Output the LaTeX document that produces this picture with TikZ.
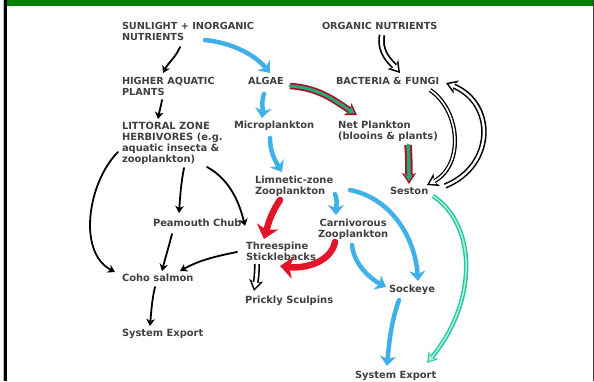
\documentclass[tikz,border=0pt]{standalone}
\usepackage{fontspec}
\usetikzlibrary{arrows.meta}
\newfontfamily\lblfont{DejaVu Sans}
\definecolor{cgreen}{RGB}{0,128,0}
\definecolor{cblue}{RGB}{64,176,232}
\definecolor{cred}{RGB}{225,20,40}
\definecolor{cdred}{RGB}{165,20,40}
\definecolor{cgin}{RGB}{40,168,120}
\definecolor{cteal}{RGB}{36,200,160}
\definecolor{ctxt}{RGB}{64,64,64}
\begin{document}
\begin{tikzpicture}[x=1pt,y=-1pt,
  lbl/.style={anchor=north west, inner sep=0pt, outer sep=0pt, align=left, text=ctxt,
    font=\lblfont\bfseries\fontsize{9.9}{11}\selectfont},
  caps/.style={lbl, font=\lblfont\bfseries\fontsize{9.7}{11}\selectfont},
  blk/.style={draw=black, line width=1.8pt, line cap=round, -{Stealth[length=7pt,width=8.5pt,inset=2pt]}},
  blu/.style={draw=cblue, line width=4.5pt, line cap=round, -{Stealth[length=10pt,width=16pt,inset=3pt]}},
  rd/.style={draw=cred, line width=6.5pt, line cap=round, -{Stealth[length=13pt,width=22pt,inset=3.5pt]}},
  holo/.style n args={4}{draw=#2, line width=#4, line cap=round, shorten >=2.8pt,
    -{Stealth[length=6.5pt,width=8pt,inset=1.8pt]},
    preaction={draw=#1, line width=#3, shorten >=0pt, -{Stealth[length=11pt,width=14pt,inset=3pt]}}},
  holt/.style={draw=cteal!35, line width=1.5pt, line cap=round, shorten >=2.2pt,
    -{Stealth[length=6pt,width=7.5pt,inset=1.5pt]},
    preaction={draw=cteal, line width=4.4pt, shorten >=0pt, -{Stealth[length=10pt,width=12pt,inset=2.5pt]}}}
]
\useasboundingbox (0,0) rectangle (594,381);
\fill[white] (0,0) rectangle (594,381);
\fill[gray!50] (3,0) rectangle (4,381);
\fill[black] (4,0) rectangle (7,381);
\fill[cgreen] (7,0) rectangle (594,5.7);
\fill[black!75] (592.5,0) rectangle (594,381);

% nodes
\node[caps] (sun) at (122,21.8) {SUNLIGHT + INORGANIC\\NUTRIENTS};
\node[caps] (org) at (322,21.8) {ORGANIC NUTRIENTS};
\node[caps] (hap) at (122,76.8) {HIGHER AQUATIC\\PLANTS};
\node[caps] (alg) at (248,76.8) {ALGAE};
\node[caps] (bac) at (336,76.8) {BACTERIA \& FUNGI};
\node[lbl] (lit) at (122,121.8) {LITTORAL ZONE\\HERBIVORES (e.g.\\aquatic insecta \&\\zooplankton)};
\node[lbl] (mic) at (234,120.8) {Microplankton};
\node[lbl] (net) at (338,120.8) {Net Plankton\\(blooins \& plants)};
\node[lbl] (lim) at (255,175.8) {Limnetic-zone\\Zooplankton};
\node[lbl] (ses) at (390,186.8) {Seston};
\node[lbl] (pea) at (153,218.8) {Peamouth Chub};
\node[lbl, align=center] (car) at (318,218.8) {Carnivorous\\Zooplankton};
\node[lbl] (thr) at (246,241.8) {Threespine\\Sticklebacks};
\node[lbl] (coh) at (122,273.8) {Coho salmon};
\node[lbl] (pri) at (245,295.8) {Prickly Sculpins};
\node[lbl] (soc) at (389,284.8) {Sockeye};
\node[lbl] (sysa) at (122,328.8) {System Export};
\node[lbl] (sysb) at (355,370.8) {System Export};

% black thin arrows
\draw[blk] ([shift={(58,25.2)}]sun.north west) .. controls +(-4,10) and +(5,-10) .. ([shift={(41,-3.8)}]hap.north west);
\draw[blk] ([shift={(40,23.2)}]hap.north west) .. controls +(-1,6) and +(1,-6) .. ([shift={(36,-2.8)}]lit.north west);
\draw[blk] ([shift={(-4,30.2)}]lit.north west) .. controls +(-30,30) and +(-38,-20) .. ([shift={(-7,-1.8)}]coh.north west);
\draw[blk] ([shift={(62,46.2)}]lit.north west) .. controls +(-3,15) and +(1,-15) .. ([shift={(26,-5.8)}]pea.north west);
\draw[blk] ([shift={(85,45.2)}]lit.north west) .. controls +(22,12) and +(-6,-25) .. ([shift={(-1,-15.8)}]thr.north west);
\draw[blk] ([shift={(19,15.2)}]pea.north west) .. controls +(-3,12) and +(3,-12) .. ([shift={(40,-2.8)}]coh.north west);
\draw[blk] ([shift={(-9,10.2)}]thr.north west) .. controls +(-25,5) and +(18,-10) .. ([shift={(58,-2.8)}]coh.north west);
\draw[blk] ([shift={(33,13.2)}]coh.north west) .. controls +(-3,12) and +(1,-12) .. ([shift={(28,-2.8)}]sysa.north west);

% hollow black arrows
\draw[holo={black}{white}{6.5pt}{3pt}] ([shift={(60,13.2)}]org.north west) .. controls +(-3,18) and +(-10,-12) .. ([shift={(64,-3.8)}]bac.north west);
\draw[holo={black}{white}{4.2pt}{1.6pt}] ([shift={(94,13.2)}]bac.north west) .. controls +(30,20) and +(38,-20) .. ([shift={(37,-1.8)}]ses.north west);
\draw[holo={black}{white}{5.5pt}{2.4pt}] ([shift={(55,-0.8)}]ses.north west) .. controls +(50,-20) and +(50,20) .. ([shift={(110,6.2)}]bac.north west);
\draw[holo={black}{white}{6pt}{2.8pt}] ([shift={(11,22.2)}]thr.north west) .. controls +(0,10) and +(2,-10) .. ([shift={(9,-4.8)}]pri.north west);

% blue arrows
\draw[blu] ([shift={(83,18.2)}]sun.north west) .. controls +(28,3) and +(-15,-18) .. ([shift={(22,-3.8)}]alg.north west);
\draw[blu] ([shift={(16,17.2)}]alg.north west) .. controls +(-3,8) and +(1,-8) .. ([shift={(28,-2.8)}]mic.north west);
\draw[blu] ([shift={(36,17.2)}]mic.north west) .. controls +(0,15) and +(-6,-10) .. ([shift={(27,-3.8)}]lim.north west);
\draw[blu] ([shift={(80,18.2)}]lim.north west) .. controls +(3,6) and +(0,-8) .. ([shift={(18,-3.8)}]car.north west);
\draw[blu] ([shift={(95,14.2)}]lim.north west) .. controls +(40,8) and +(-3,-45) .. ([shift={(29,-3.8)}]soc.north west);
\draw[blu] ([shift={(34,26.2)}]car.north west) .. controls +(2,20) and +(-15,-8) .. ([shift={(-3,2.2)}]soc.north west);
\draw[blu] ([shift={(10,15.2)}]soc.north west) .. controls +(-8,22) and +(2,-22) .. ([shift={(32,-4.8)}]sysb.north west);

% teal hollow arrow
\draw[holt] ([shift={(43,9.2)}]ses.north west) .. controls +(45,30) and +(50,-60) .. ([shift={(72,-7.8)}]sysb.north west);

% red arrows
\draw[rd] ([shift={(25,24.2)}]lim.north west) .. controls +(-10,15) and +(4,-14) .. ([shift={(18,-2.8)}]thr.north west);
\draw[rd] ([shift={(17,23.2)}]car.north west) .. controls +(-4,20) and +(25,3) .. ([shift={(34,24.2)}]thr.north west);

% red-outlined green arrows
\draw[holo={cdred}{cgin}{6.5pt}{3pt}] ([shift={(42,9.2)}]alg.north west) .. controls +(30,2) and +(-22,-14) .. ([shift={(19,-5.8)}]net.north west);
\draw[holo={cdred}{cgin}{7.5pt}{3.5pt}] ([shift={(70,24.2)}]net.north west) .. controls +(1,14) and +(0,-12) .. ([shift={(19,-2.8)}]ses.north west);
\end{tikzpicture}
\end{document}
